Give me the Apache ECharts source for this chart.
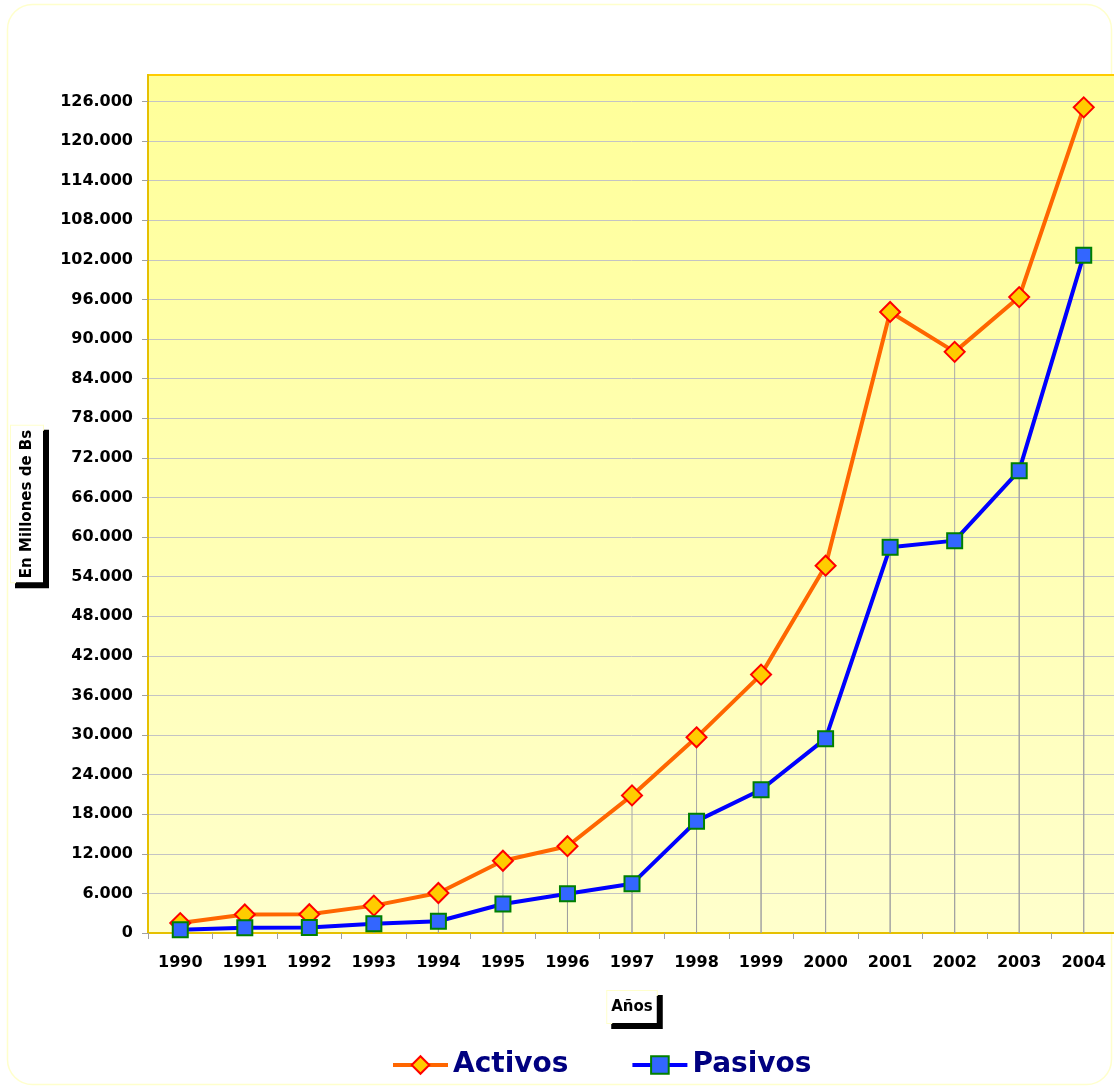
<!DOCTYPE html>
<html>
<head>
<meta charset="utf-8">
<script src="https://cdn.jsdelivr.net/npm/echarts@6/dist/echarts.min.js"></script>
<style>
html,body{margin:0;padding:0;background:#fff;}
#chart{width:1114px;height:1087px;}
</style>
</head>
<body>
<div id="chart"></div>
<script>
const years = ['1990','1991','1992','1993','1994','1995','1996','1997','1998','1999','2000','2001','2002','2003','2004'];
const activos = [1500, 2800, 2850, 4150, 6060, 10950, 13150, 20850, 29650, 39150, 55650, 94100, 88050, 96350, 125100];
const pasivos = [480, 800, 820, 1400, 1780, 4400, 5950, 7450, 16950, 21700, 29450, 58450, 59450, 70050, 102700];
const yMin = 0, yMax = 130000, yStep = 6000;

function fmt(v){
  return String(Math.round(v)).replace(/\B(?=(\d{3})+(?!\d))/g, '.');
}

const FONT = '"DejaVu Sans", Verdana, sans-serif';
const chart = echarts.init(document.getElementById('chart'), null, {renderer:'canvas'});
const nameBox = {
  fontFamily: FONT, fontWeight: 'bold', fontSize: 15, color: '#000',
  backgroundColor: '#fff', borderColor: '#FFFFCC', borderWidth: 1,
  padding: [8, 4], lineHeight: 16,
  shadowColor: '#000', shadowBlur: 0, shadowOffsetX: 5, shadowOffsetY: 5
};
chart.setOption({
  animation: false,
  backgroundColor: '#fff',
  graphic: [{
    type: 'rect', z: -10, silent: true,
    shape: {x: 7.5, y: 4.5, width: 1104, height: 1080, r: 25},
    style: {fill: 'none', stroke: '#FFFFCC', lineWidth: 1.5}
  }],
  grid: {
    left: 148, top: 75, width: 968, bottom: 154,
    containLabel: false, outerBoundsMode: 'none',
    show: true,
    borderColor: '#FFCC00', borderWidth: 2,
    backgroundColor: new echarts.graphic.LinearGradient(0, 0, 0, 1, [
      {offset: 0, color: '#FFFF99'},
      {offset: 1, color: '#FFFFCC'}
    ])
  },
  legend: {
    left: 386, top: 1046,
    itemWidth: 55, itemHeight: 22, itemGap: 62,
    data: ['Activos', 'Pasivos'],
    lineStyle: {width: 4},
    textStyle: {fontFamily: FONT, fontWeight: 'bold', fontSize: 28, color: '#000080'}
  },
  xAxis: {
    type: 'category', data: years, boundaryGap: true,
    name: 'Años', nameLocation: 'middle', nameGap: 58,
    nameTextStyle: nameBox,
    axisLine: {lineStyle: {color: '#E6C000', width: 2}},
    axisTick: {show: true, inside: false, length: 6, lineStyle: {color: '#A0A0A0'}},
    axisLabel: {fontFamily: FONT, fontWeight: 'bold', fontSize: 16, color: '#000', margin: 22},
    splitLine: {show: false}
  },
  yAxis: {
    type: 'value', min: yMin, max: yMax, interval: yStep,
    name: 'En Millones de Bs', nameLocation: 'middle', nameGap: 105, nameRotate: 90,
    nameTextStyle: nameBox,
    axisLine: {show: true, lineStyle: {color: '#E6C000', width: 2}},
    axisTick: {show: true, inside: false, length: 6, lineStyle: {color: '#A0A0A0'}},
    axisLabel: {fontFamily: FONT, fontWeight: 'bold', fontSize: 16, color: '#000', margin: 15,
      showMaxLabel: false, formatter: fmt},
    splitLine: {show: true, showMaxLine: false, showMinLine: false, lineStyle: {color: '#C4C4C4', width: 1}}
  },
  series: [
    {
      name: 'dropA', type: 'bar', data: activos, barWidth: 1, barGap: '-100%',
      silent: true, itemStyle: {color: '#A8A8A8'}, z: 1
    },
    {
      name: 'dropP', type: 'bar', data: pasivos, barWidth: 1, barGap: '-100%',
      silent: true, itemStyle: {color: '#A0A0A0'}, z: 1
    },
    {
      name: 'Activos', type: 'line', data: activos,
      symbol: 'diamond', symbolSize: 20,
      lineStyle: {color: '#FF6600', width: 4},
      itemStyle: {color: '#FFCC00', borderColor: '#FF0000', borderWidth: 2},
      z: 3
    },
    {
      name: 'Pasivos', type: 'line', data: pasivos,
      symbol: 'rect', symbolSize: 15,
      lineStyle: {color: '#0000FF', width: 4},
      itemStyle: {color: '#3366FF', borderColor: '#008000', borderWidth: 2},
      z: 4
    }
  ]
});
</script>
</body>
</html>
